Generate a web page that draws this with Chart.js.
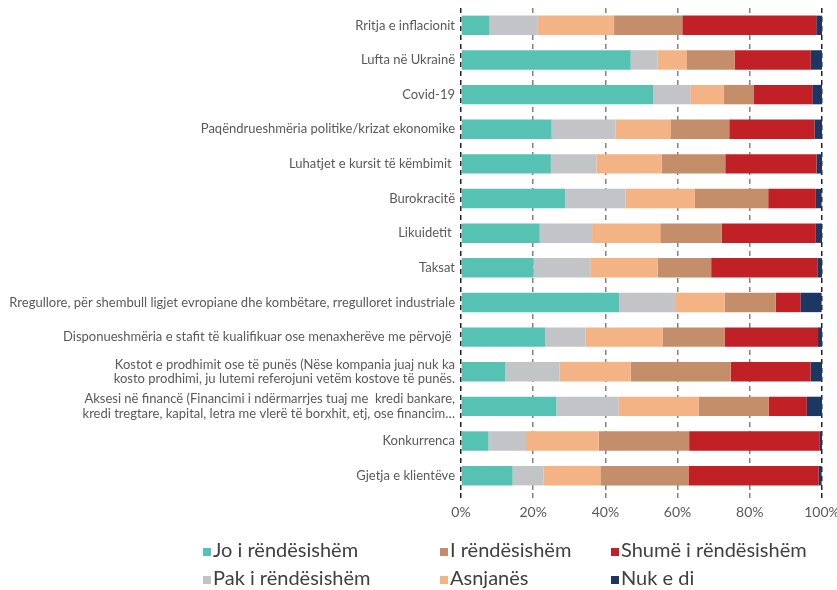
<!DOCTYPE html>
<html>
<head>
<meta charset="utf-8">
<script src="https://cdn.jsdelivr.net/npm/chart.js@4.4.0/dist/chart.umd.min.js"></script>
<style>
  html, body { margin: 0; padding: 0; background: #ffffff; }
  #wrap { position: relative; width: 837px; height: 590px; overflow: hidden; }
  #chartBox { position: absolute; left: 0; top: 0; width: 837px; height: 530px; }
  #legend { position: absolute; left: 0; top: 0; width: 837px; height: 590px; pointer-events: none;
            font-family: Lato, "DejaVu Sans", sans-serif; color: #404040; font-size: 20px; }
  .li { position: absolute; white-space: nowrap; line-height: 22px; height: 22px; }
  .sw { display: inline-block; width: 8px; height: 8px; margin-right: 2px; vertical-align: 1px; }
</style>
</head>
<body>
<div id="wrap">
  <div id="chartBox"><canvas id="c"></canvas></div>
  <div id="legend"></div>
</div>
<script>
const categories = [
  "Rritja e inflacionit",
  "Lufta në Ukrainë",
  "Covid-19",
  "Paqëndrueshmëria politike/krizat ekonomike",
  "Luhatjet e kursit të këmbimit ",
  "Burokracitë",
  "Likuidetit ",
  "Taksat",
  "Rregullore, për shembull ligjet evropiane dhe kombëtare, rregulloret industriale",
  "Disponueshmëria e stafit të kualifikuar ose menaxherëve me përvojë ",
  ["Kostot e prodhimit ose të punës (Nëse kompania juaj nuk ka", "kosto prodhimi, ju lutemi referojuni vetëm kostove të punës."],
  ["Aksesi në financë (Financimi i ndërmarrjes tuaj me  kredi bankare,", "kredi tregtare, kapital, letra me vlerë të borxhit, etj, ose financim…"],
  "Konkurrenca",
  "Gjetja e klientëve"
];

const seriesNames = ["Jo i rëndësishëm", "Pak i rëndësishëm", "Asnjanës", "I rëndësishëm", "Shumë i rëndësishëm", "Nuk e di"];

const joRendesishem    = [7.9, 47.0, 53.2, 25.1, 24.9, 28.9, 21.8, 20.1, 43.8, 23.3, 12.3, 26.4, 7.6, 14.3];
const pakRendesishem   = [13.4, 7.5, 10.3, 17.7, 12.6, 16.7, 14.5, 15.7, 15.5, 11.2, 15.0, 17.3, 10.4, 8.6];
const asnjanes         = [21.1, 8.1, 9.2, 15.2, 18.1, 19.2, 18.9, 18.7, 13.7, 21.3, 19.7, 22.1, 20.1, 15.7];
const iRendesishem     = [18.9, 13.2, 8.3, 16.3, 17.6, 20.3, 17.0, 14.8, 14.2, 17.2, 27.7, 19.4, 25.1, 24.4];
const shumeRendesishem = [37.1, 21.1, 16.3, 23.6, 25.3, 13.2, 26.1, 29.4, 6.8, 25.9, 22.1, 10.6, 36.2, 36.1];
const nukEDi           = [1.7, 3.1, 2.7, 2.1, 1.6, 1.6, 1.7, 1.4, 5.9, 1.1, 3.2, 4.2, 0.6, 0.8];

const xTickLabels = ["0%", "20%", "40%", "60%", "80%", "100%"];

const colors = ["#56c2b4", "#c3c4c7", "#f3b385", "#c48e6a", "#c12027", "#1b3762"];
const seriesValues = [joRendesishem, pakRendesishem, asnjanes, iRendesishem, shumeRendesishem, nukEDi];

const datasets = seriesNames.map((name, i) => ({
  label: name,
  data: seriesValues[i],
  backgroundColor: colors[i],
  borderWidth: 0,
  barPercentage: 0.56,
  categoryPercentage: 1.0
}));

const chart = new Chart(document.getElementById('c'), {
  type: 'bar',
  data: { labels: categories, datasets: datasets },
  options: {
    indexAxis: 'y',
    responsive: true,
    maintainAspectRatio: false,
    animation: false,
    layout: { padding: { left: 0, right: 15, top: 8, bottom: 0 } },
    plugins: { legend: { display: false }, tooltip: { enabled: false } },
    scales: {
      x: {
        stacked: true,
        min: 0, max: 100,
        afterFit: (s) => { s.height = 37; s.paddingLeft = 0; s.paddingRight = 0; },
        afterBuildTicks: (s) => { s.ticks = xTickLabels.map((t, i) => ({ value: i * 20 })); },
        ticks: {
          padding: 6,
          color: '#595959',
          font: { family: 'Lato, "DejaVu Sans", sans-serif', size: 14 },
          callback: (v, i) => xTickLabels[i]
        },
        grid: {
          display: true,
          drawOnChartArea: true,
          drawTicks: true,
          tickLength: 5,
          lineWidth: 1.5,
          color: (ctx) => (ctx.index === 0 || ctx.index === 5) ? '#222222' : '#808080',
          tickColor: (ctx) => (ctx.index === 0 || ctx.index === 5) ? '#222222' : '#808080',
          tickBorderDash: [5, 4]
        },
        border: { display: false, dash: [5, 4] }
      },
      y: {
        stacked: true,
        afterFit: (s) => { s.width = 461; s.paddingTop = 0; s.paddingBottom = 0; },
        ticks: {
          padding: 6,
          color: '#595959',
          font: { family: 'Lato, "DejaVu Sans", sans-serif', size: 13, lineHeight: 1.1 },
          autoSkip: false
        },
        grid: { display: false, drawTicks: false },
        border: { display: false }
      }
    }
  }
});

// HTML legend built from the chart's datasets, column-major layout as in the reference
const legendEl = document.getElementById('legend');
const colX = [203, 440, 611];
const rowY = [538, 566];
const order = [0, 3, 4, 1, 2, 5];
order.forEach((dsIndex, k) => {
  const ds = chart.data.datasets[dsIndex];
  const col = k % 3, row = Math.floor(k / 3);
  const item = document.createElement('div');
  item.className = 'li';
  item.style.left = colX[col] + 'px';
  item.style.top = rowY[row] + 'px';
  const sw = document.createElement('span');
  sw.className = 'sw';
  sw.style.background = ds.backgroundColor;
  item.appendChild(sw);
  item.appendChild(document.createTextNode(ds.label));
  legendEl.appendChild(item);
});
</script>
</body>
</html>
